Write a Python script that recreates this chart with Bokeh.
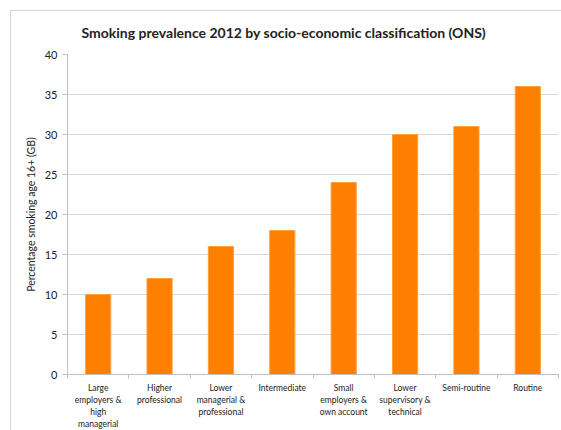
import numpy as np
from bokeh.plotting import figure
from bokeh.models import Range1d, FixedTicker, ColumnDataSource
from bokeh.embed import file_html
from bokeh.resources import INLINE

title = "Smoking prevalence 2012 by socio-economic classification (ONS)"
categories = ["Large\nemployers &\nhigh\nmanagerial", "Higher\nprofessional",
              "Lower\nmanagerial &\nprofessional", "Intermediate",
              "Small\nemployers &\nown account", "Lower\nsupervisory &\ntechnical",
              "Semi-routine", "Routine"]
values = [10, 12, 16, 18, 24, 30, 31, 36]
y_ticks = [0, 5, 10, 15, 20, 25, 30, 35, 40]

FONT = "Lato"
pos = np.arange(len(categories)) + 0.5

p = figure(width=551, height=420, output_backend="svg", toolbar_location=None,
           x_range=Range1d(0, len(categories)), y_range=Range1d(0, 40),
           min_border_left=56, min_border_right=4, min_border_top=42, min_border_bottom=56)
p.margin = (10, 0, 0, 10)
p.styles = {"border-left": "1px solid #d4d4d4", "border-top": "1px solid #d4d4d4"}
p.outline_line_color = None
p.background_fill_color = "white"
p.border_fill_color = "white"

src = ColumnDataSource(dict(x=pos, top=values))
p.vbar(x="x", top="top", width=0.41, source=src, fill_color="#ff8000",
       line_color="#ffa040", line_width=1)

p.title.text = title
p.title.text_font = FONT
p.title.text_font_style = "bold"
p.title.text_font_size = "14px"
p.title.align = "left"
p.title.offset = 14
p.title.standoff = 24
p.title.vertical_align = "top"
p.title.text_color = "#222222"

p.xgrid.visible = False
p.ygrid.grid_line_color = "#d9d9d9"
p.ygrid.ticker = FixedTicker(ticks=y_ticks)

p.yaxis.ticker = FixedTicker(ticks=y_ticks)
p.yaxis.axis_line_color = "#bfbfbf"
p.yaxis.major_tick_line_color = "#bfbfbf"
p.yaxis.major_tick_out = 5
p.yaxis.major_tick_in = 0
p.yaxis.minor_tick_line_color = None
p.yaxis.major_label_text_font = FONT
p.yaxis.major_label_text_font_size = "11px"
p.yaxis.major_label_text_color = "#222222"
p.yaxis.axis_label = "Percentage smoking age 16+ (GB)"
p.yaxis.axis_label_text_font = FONT
p.yaxis.axis_label_text_font_size = "10.5px"
p.yaxis.axis_label_text_font_style = "normal"
p.yaxis.axis_label_text_color = "#222222"
p.yaxis.axis_label_standoff = 5

p.xaxis.ticker = FixedTicker(ticks=list(pos), minor_ticks=list(range(len(categories) + 1)))
p.xaxis.major_label_overrides = {float(x): c for x, c in zip(pos, categories)}
p.xaxis.axis_line_color = "#bfbfbf"
p.xaxis.major_tick_line_color = None
p.xaxis.minor_tick_line_color = "#bfbfbf"
p.xaxis.minor_tick_out = 4
p.xaxis.minor_tick_in = 0
p.xaxis.major_label_text_font = FONT
p.xaxis.major_label_text_font_size = "8.5px"
p.xaxis.major_label_text_color = "#222222"
p.xaxis.major_label_standoff = 2

open("out.html", "w").write(file_html(p, INLINE))
